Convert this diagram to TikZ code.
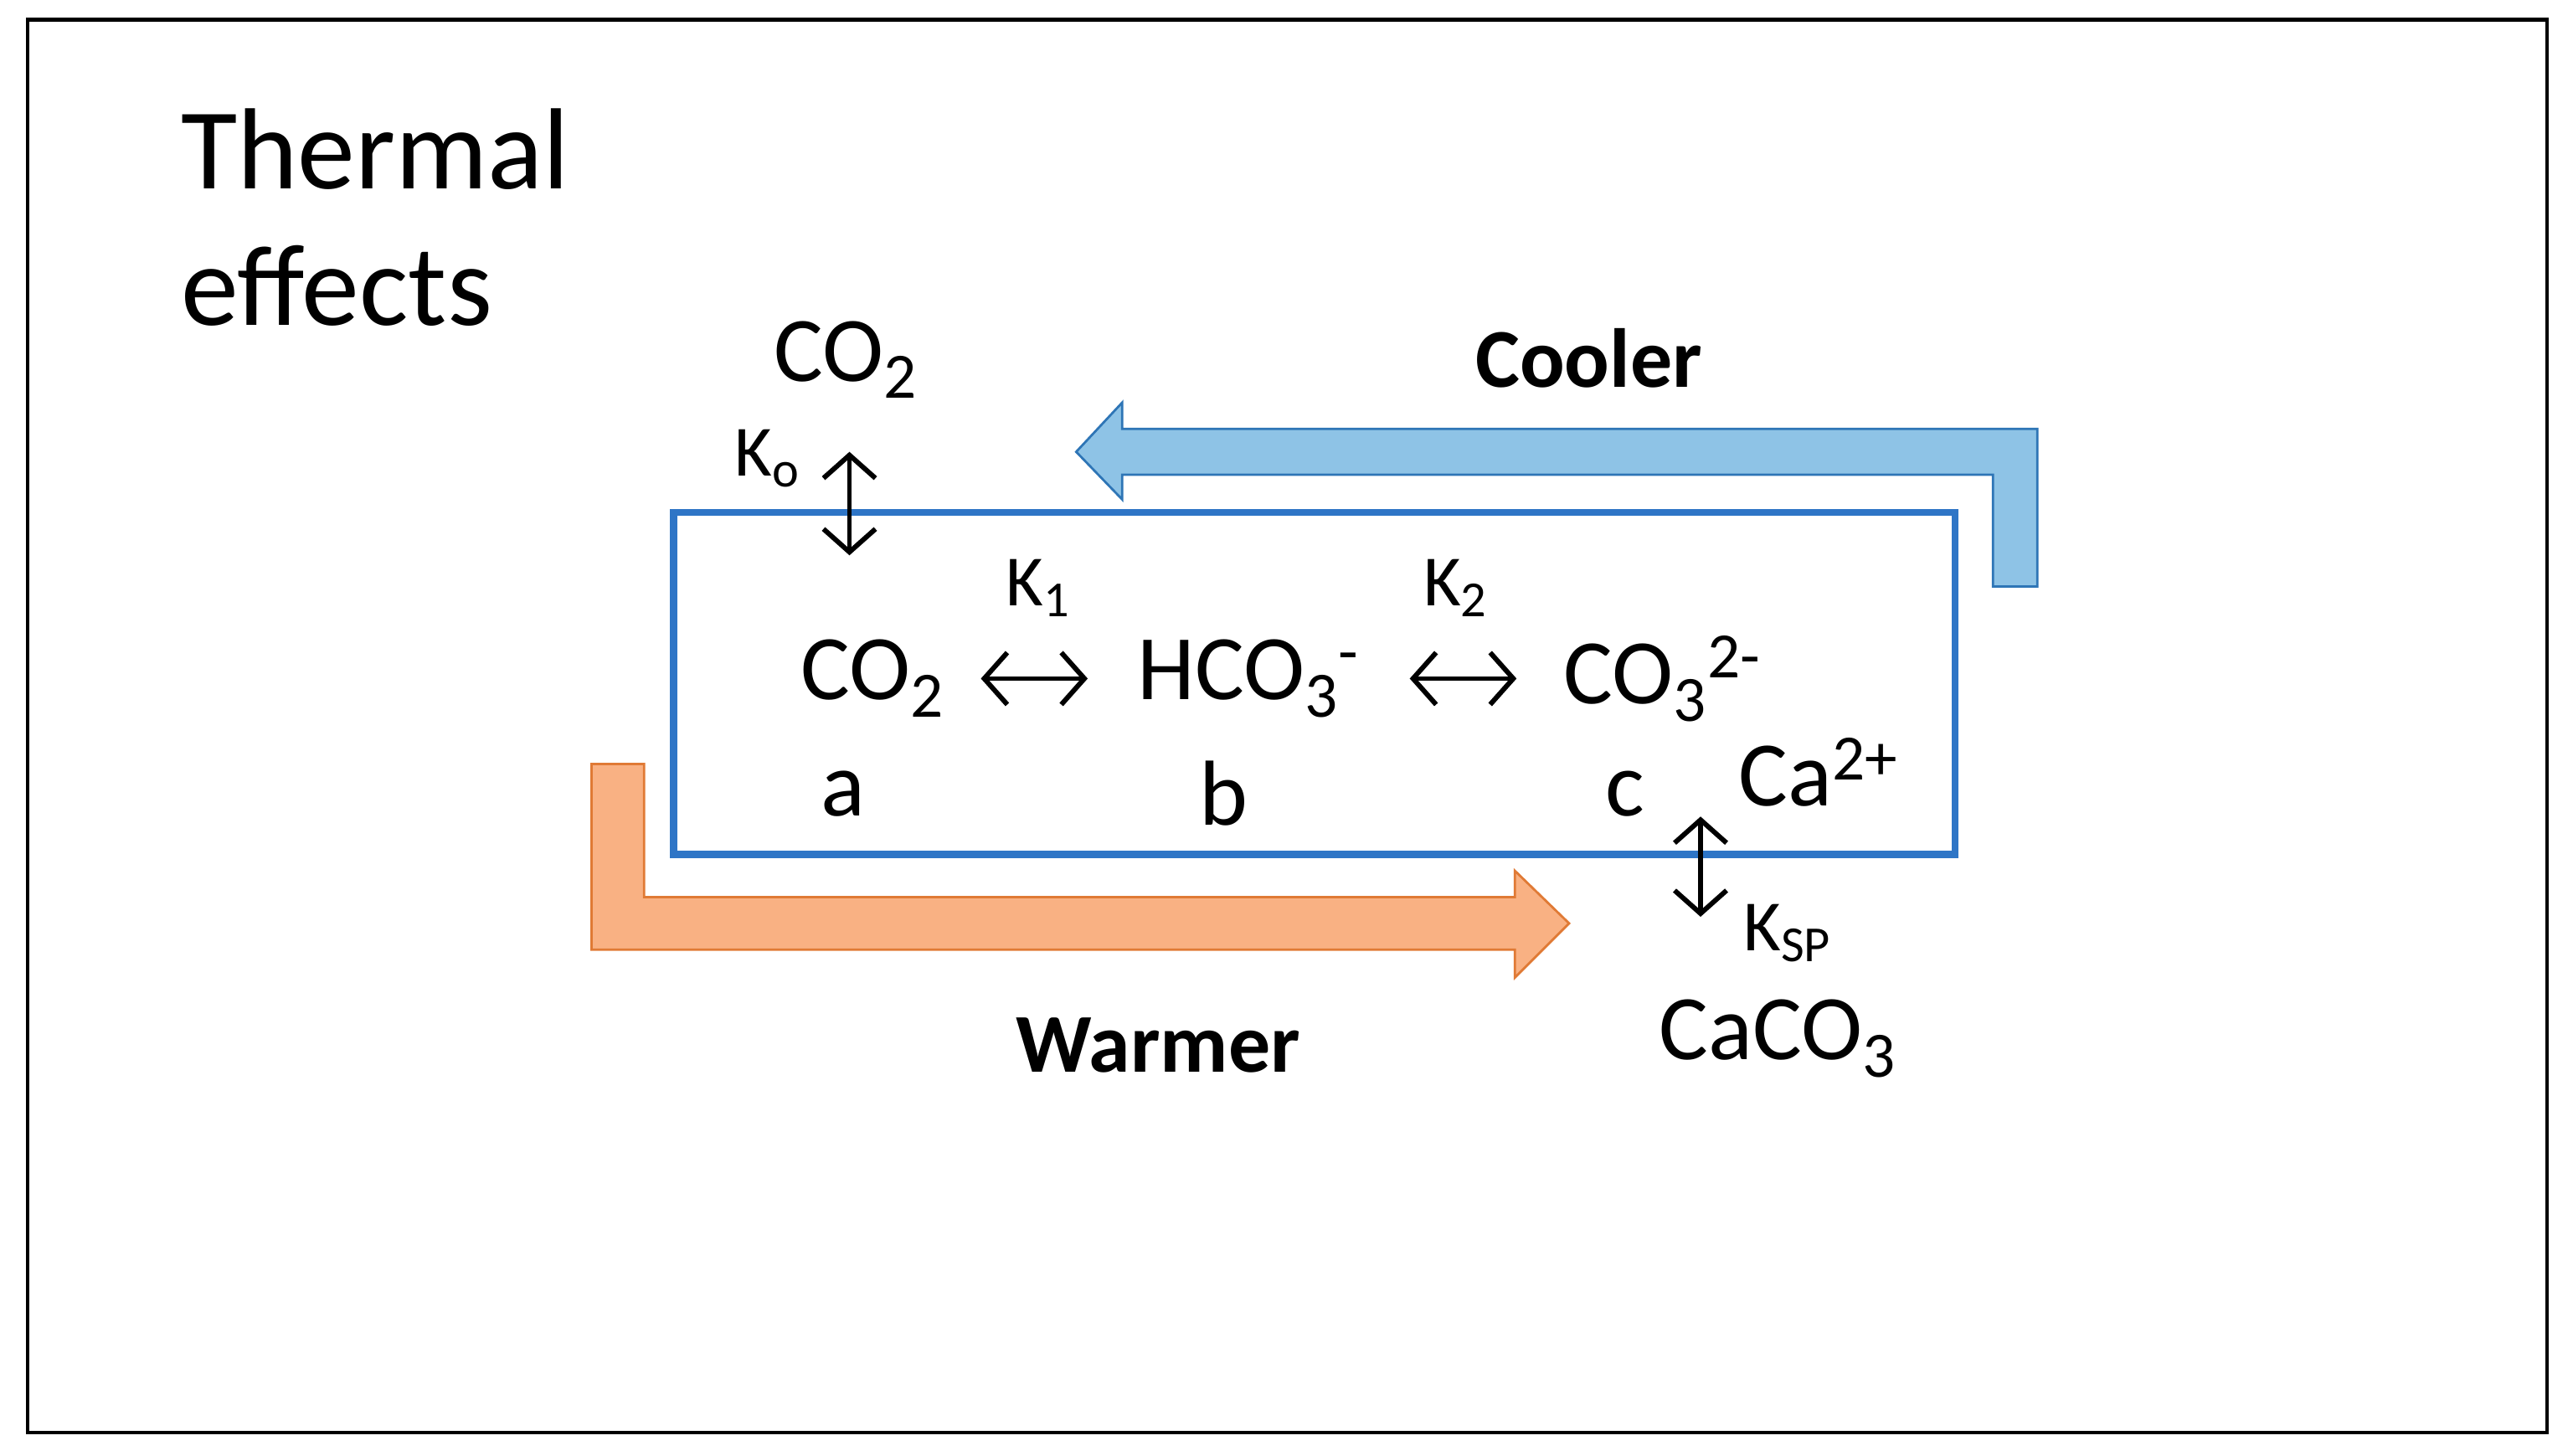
\documentclass[tikz,border=0pt]{standalone}
\usepackage{fontspec}
\setmainfont{Carlito}
\usetikzlibrary{arrows.meta}
\definecolor{boxblue}{HTML}{2E75C6}
\definecolor{coolfill}{HTML}{8EC3E6}
\definecolor{coolline}{HTML}{2E75B6}
\definecolor{warmfill}{HTML}{F9B183}
\definecolor{warmline}{HTML}{E07A35}
\begin{document}
\begin{tikzpicture}[x=0.02cm,y=-0.02cm,
  big/.style={font=\fontsize{40}{44}\selectfont},
  chem/.style={font=\fontsize{32}{35}\selectfont},
  klab/.style={font=\fontsize{25}{27}\selectfont},
  bold/.style={font=\fontsize{29}{31}\selectfont\bfseries},
  dbl/.style={{Straight Barb[length=8pt,width=18pt]}-{Straight Barb[length=8pt,width=18pt]}, line width=1.7pt}]
\useasboundingbox (0,0) rectangle (1566,886);
\draw[line width=1.2pt] (17,12) rectangle (1550,872);
\draw[boxblue, line width=2.4pt] (410,312) rectangle (1190,520);
\draw[coolline, fill=coolfill, line width=0.8pt] (1240,357)--(1240,261)--(683,261)--(683,245)--(655,275)--(683,304)--(683,289)--(1213,289)--(1213,357)--cycle;
\draw[warmline, fill=warmfill, line width=0.8pt] (360,465)--(392,465)--(392,546)--(922,546)--(922,530)--(955,562)--(922,595)--(922,578)--(360,578)--cycle;
\node[big, anchor=base west] (t1) at (104,115) {Thermal};
\node[big, anchor=base west] (t2) at (104,198) {effects};
\node[chem, anchor=base] (co2a) at (515,232) {CO\textsubscript{2}};
\node[klab] (ko) at (467,279) {K\textsubscript{o}};
\node[chem] (co2) at (531,413) {CO\textsubscript{2}};
\node[chem] (hco3) at (760,413) {HCO\textsubscript{3}\textsuperscript{-}};
\node[chem] (co3) at (1012,413) {CO\textsubscript{3}\textsuperscript{2-}};
\node[klab] (k1) at (632,358) {K\textsubscript{1}};
\node[klab] (k2) at (886,358) {K\textsubscript{2}};
\node[chem] (a) at (513,483) {a};
\node[chem] (b) at (745,483) {b};
\node[chem] (c) at (989,483) {c};
\node[chem] (ca) at (1107,470) {Ca\textsuperscript{2+}};
\node[klab] (ksp) at (1088,568) {K\textsubscript{SP}};
\node[chem] (caco3) at (1082,632) {CaCO\textsubscript{3}};
\node[bold] (cool) at (967,218) {Cooler};
\node[bold] (warm) at (705,636) {Warmer};
\coordinate (v1a) at (517,275); \coordinate (v1b) at (517,338);
\coordinate (h1a) at (597,413); \coordinate (h1b) at (662,413);
\coordinate (h2a) at (858,413); \coordinate (h2b) at (923,413);
\coordinate (v2a) at (1035,497); \coordinate (v2b) at (1035,558);
\draw[dbl] (v1a) -- (v1b);
\draw[dbl] (h1a) -- (h1b);
\draw[dbl] (h2a) -- (h2b);
\draw[dbl] (v2a) -- (v2b);
\end{tikzpicture}
\end{document}
